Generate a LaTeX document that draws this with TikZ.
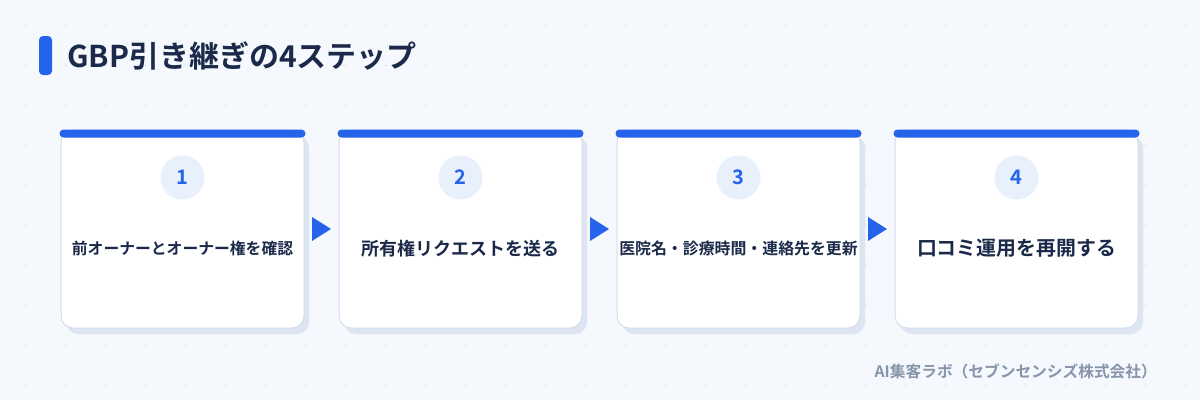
\documentclass[tikz,border=0pt]{standalone}
\usepackage{fontspec}
\setmainfont{Noto Sans CJK JP}[BoldFont={Noto Sans CJK JP Bold}]
\usetikzlibrary{calc,shadows}
\definecolor{bgc}{HTML}{F5F8FC}
\definecolor{gridc}{HTML}{E6EDF6}
\definecolor{accent}{HTML}{2563EB}
\definecolor{navy}{HTML}{1B2A4A}
\definecolor{cardline}{HTML}{D3DDEB}
\definecolor{shadowc}{HTML}{DCE5F1}
\definecolor{circc}{HTML}{E8F0FC}
\definecolor{footc}{HTML}{8795AB}
\tikzset{
  card/.style={rectangle, rounded corners=12pt, fill=white, draw=cardline, line width=1pt,
    minimum width=243pt, minimum height=198pt, inner sep=0pt,
    general shadow={shadow xshift=5pt, shadow yshift=-6pt, fill=shadowc, draw=none}},
  numc/.style={circle, fill=circc, text=accent, minimum size=44pt, inner sep=0pt,
    font=\fontsize{20}{24}\selectfont\bfseries},
  steptext/.style={text=navy, inner sep=0pt},
  arrowtri/.style={fill=accent},
}
\begin{document}
\begin{tikzpicture}[x=1pt,y=-1pt]
\useasboundingbox (0,0) rectangle (1200,400);
\fill[bgc] (0,0) rectangle (1200,400);
\foreach \i in {0,...,29} \foreach \j in {0,...,9} {
  \draw[gridc, line width=0.5pt] (25+40*\i-2, 25+40*\j) -- ++(4,0) (25+40*\i, 25+40*\j-2) -- ++(0,4);
}
% title
\fill[accent, rounded corners=4pt] (39,36) rectangle (52,75);
\node[anchor=west, text=navy, inner sep=0pt, font=\fontsize{30}{34}\selectfont\bfseries] (title) at (67,56) {GBP引き継ぎの4ステップ};
% cards
\foreach \n/\x/\txt/\fs in {1/182.5/前オーナーとオーナー権を確認/15.8, 2/460.5/所有権リクエストを送る/18, 3/738.5/医院名・診療時間・連絡先を更新/15.9, 4/1016.5/口コミ運用を再開する/19.9} {
  \node[card] (c\n) at (\x,229) {};
  \fill[accent, rounded corners=4pt] ([xshift=-1pt]c\n.north west) rectangle ([xshift=1pt,yshift=-8pt]c\n.north east);
  \node[numc] (n\n) at ([yshift=-48pt]c\n.north) {\n};
  \node[steptext, font=\fontsize{\fs}{\fs}\selectfont\bfseries] (t\n) at ([yshift=-119pt]c\n.north) {\txt};
}
% arrows
\foreach \a/\b in {1/2, 2/3, 3/4} {
  \coordinate (m\a) at ($(c\a.east)!0.5!(c\b.west)$);
  \fill[arrowtri] ([xshift=-9.5pt,yshift=12pt]m\a) -- ([xshift=9.5pt]m\a) -- ([xshift=-9.5pt,yshift=-12pt]m\a) -- cycle;
}
% footer
\node[anchor=east, text=footc, inner sep=0pt, font=\fontsize{15.7}{18}\selectfont\bfseries] (foot) at (1157,371) {AI集客ラボ（セブンセンシズ株式会社）};
\end{tikzpicture}
\end{document}
